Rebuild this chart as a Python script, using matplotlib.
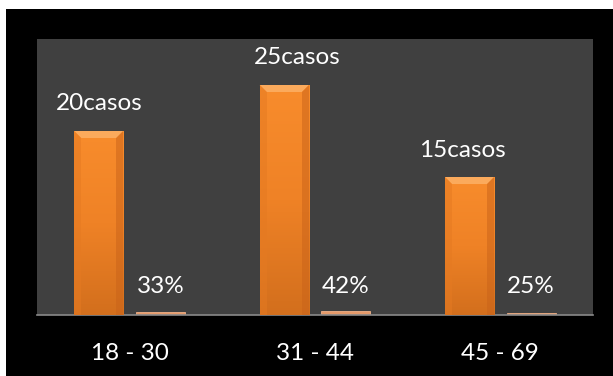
import matplotlib
matplotlib.use("Agg")
import matplotlib.pyplot as plt
import numpy as np
from matplotlib.patches import Rectangle, Polygon

plt.rcParams["font.family"] = ["Lato", "DejaVu Sans"]

age_groups = ["18 - 30", "31 - 44", "45 - 69"]
cases = [20, 25, 15]
share = [0.33, 0.42, 0.25]

# label nudges (category units, value units) relative to each bar's top
case_label_dx = [0.0, 0.07, -0.04]
case_label_dy = [3.0, 3.0, 2.9]
pct_label_dx = [0.0, 0.0, 0.0]
pct_label_dy = [2.8, 2.7, 2.9]

BAR_W = 0.265
OFFSET = 0.166
ORANGE = "#F58A2B"

fig = plt.figure(figsize=(6.13, 3.76), dpi=100, facecolor="white")
fig.patches.append(Rectangle((6 / 613, 0), 1, 1 - 9 / 376, transform=fig.transFigure,
                             facecolor="black", edgecolor="none", zorder=-10))

ax = fig.add_axes([37 / 613, 61 / 376, 556 / 613, 276 / 376])
ax.set_zorder(1)
ax.set_facecolor("#404040")

x = np.arange(len(age_groups))
grad = np.linspace(0, 1, 100).reshape(-1, 1)
cmap = matplotlib.colors.LinearSegmentedColormap.from_list(
    "bar", ["#D36F1D", "#EF8226", "#F88C2C"])

# px -> data conversions for the bevel
px_x = 3.0 / 556
px_y = 30.0 / 276

for xi, v in zip(x, cases):
    left = xi - OFFSET - BAR_W / 2
    bar = ax.bar(xi - OFFSET, v, BAR_W, color=ORANGE, edgecolor="none", zorder=2)[0]
    im = ax.imshow(grad, extent=(left, left + BAR_W, 0, v), origin="lower",
                   cmap=cmap, aspect="auto", zorder=3)
    im.set_clip_path(bar)
    bx, by = 7 * px_x, 7 * px_y
    # top bevel
    ax.add_patch(Polygon([(left, v), (left + BAR_W, v), (left + BAR_W - bx, v - by),
                          (left + bx, v - by)], closed=True,
                         facecolor="#FBAA5C", edgecolor="none", zorder=4))
    # side bevels
    ax.add_patch(Polygon([(left + BAR_W, v), (left + BAR_W, 0), (left + BAR_W - bx, 0),
                          (left + BAR_W - bx, v - by)], closed=True,
                         facecolor="#C9631A", alpha=0.5, edgecolor="none", zorder=4))
    ax.add_patch(Polygon([(left, v), (left, 0), (left + bx, 0), (left + bx, v - by)],
                         closed=True, facecolor="#E57A22", alpha=0.5,
                         edgecolor="none", zorder=4))

ax.set_xlim(-0.5, 2.5)
ax.set_ylim(0, 30)

ax.bar(x + OFFSET, share, BAR_W, color="#E59A6A", edgecolor="#F0B088",
       linewidth=0.6, zorder=2)

for xi, v, dx, dy in zip(x, cases, case_label_dx, case_label_dy):
    ax.text(xi - OFFSET + dx, v + dy, f"{v}casos", ha="center", va="center",
            color="white", fontsize=17.5, zorder=5)
for xi, v, dx, dy in zip(x, share, pct_label_dx, pct_label_dy):
    ax.text(xi + OFFSET + dx, v + dy, f"{round(v * 100)}%", ha="center", va="center",
            color="white", fontsize=17.5, zorder=5)

ax.set_xticks(x)
ax.set_xticklabels(age_groups, color="white", fontsize=17.5)
ax.tick_params(axis="x", length=0, pad=20)
ax.set_yticks([])
for side in ["top", "left", "right"]:
    ax.spines[side].set_visible(False)
ax.spines["bottom"].set_color("#8A8A8A")
ax.spines["bottom"].set_linewidth(1.2)

fig.savefig("out.png", dpi=100, facecolor=fig.get_facecolor())
